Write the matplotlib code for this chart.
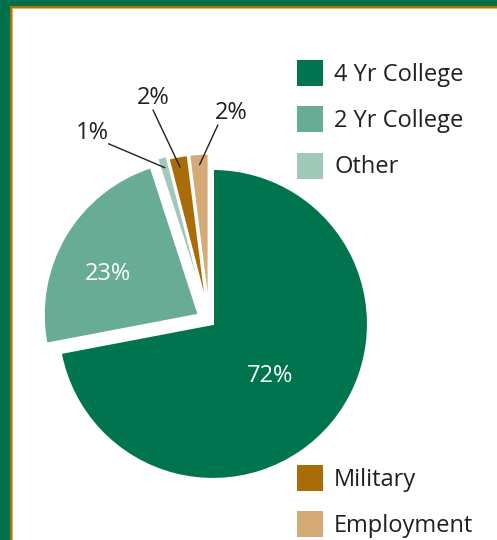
import matplotlib.pyplot as plt
from matplotlib.patches import Patch, Rectangle
import numpy as np

plt.rcParams.update({
    "font.family": ["Open Sans", "DejaVu Sans"],
    "figure.facecolor": "white",
})

# -------------------------------------------------
# Data
# -------------------------------------------------
categories = ["4 Yr College", "2 Yr College", "Other", "Military", "Employment"]
shares = [72, 23, 1, 2, 2]
pct_labels = ["72%", "23%", "1%", "2%", "2%"]
colors = ["#00744E", "#68AC96", "#A0C9BA", "#A96C08", "#D4AA76"]
explode = [0.03, 0.08, 0.10, 0.08, 0.08]

text_color = "#231F20"
border_green = "#00704A"

# -------------------------------------------------
# Figure / axes (1 data unit = pie radius = 155 px)
# -------------------------------------------------
W, H = 497, 540
R = 155.0
cx, cy = 209.4, 321.0          # pie centre in pixels (from top-left)

fig = plt.figure(figsize=(W / 100, H / 100), dpi=100)
ax = fig.add_axes([0, 0, 1, 1])

wedges, _ = ax.pie(
    shares,
    colors=colors,
    explode=explode,
    startangle=90,
    counterclock=False,
    radius=1,
    wedgeprops=dict(edgecolor="white", linewidth=1.5),
)
ax.set_xlim(-cx / R, (W - cx) / R)
ax.set_ylim(-(H - cy) / R, cy / R)
ax.set_aspect("auto")
ax.axis("off")

# inner labels (radius, angle offset in degrees)
inner = {0: (0.50, -3.0), 1: (0.64, 6.5)}
for i, (r, dth) in inner.items():
    w = wedges[i]
    mid = np.deg2rad((w.theta1 + w.theta2) / 2 + dth)
    x = w.center[0] + r * np.cos(mid)
    y = w.center[1] + r * np.sin(mid)
    ax.text(x, y, pct_labels[i], color="white", fontsize=17,
            ha="center", va="center")

# outer labels with leader lines
outer_pos = {2: (-0.757, 1.213), 3: (-0.364, 1.439), 4: (0.139, 1.342)}
outer_rel = {2: (1.0, 0.05), 3: (0.5, 0.0), 4: (0.1, 0.0)}
for i in (2, 3, 4):
    w = wedges[i]
    mid = np.deg2rad((w.theta1 + w.theta2) / 2)
    px = w.center[0] + 0.93 * np.cos(mid)
    py = w.center[1] + 0.93 * np.sin(mid)
    ax.annotate(
        pct_labels[i], xy=(px, py), xytext=outer_pos[i],
        color=text_color, fontsize=17, ha="center", va="center",
        arrowprops=dict(arrowstyle="-", color=text_color, lw=1.0,
                        relpos=outer_rel[i], patchA=None,
                        shrinkA=0, shrinkB=0),
    )

# legends (split in two groups)
handles = [Patch(facecolor=c, edgecolor="none") for c in colors]
leg_kw = dict(loc="upper left", frameon=False, fontsize=17,
              handlelength=1.10, handleheight=1.32, handletextpad=0.47,
              borderpad=0, borderaxespad=0, labelcolor=text_color)
leg1 = fig.legend(handles[:3], categories[:3], labelspacing=0.82,
                  bbox_to_anchor=(297 / W, 1 - 60 / H), **leg_kw)
leg2 = fig.legend(handles[3:], categories[3:], labelspacing=0.82,
                  bbox_to_anchor=(297 / W, 1 - 465 / H), **leg_kw)

# frame: green band on top and left, gold rule inside
fig.add_artist(Rectangle((0, 1 - 6 / H), 1, 6 / H, transform=fig.transFigure,
                         facecolor=border_green, edgecolor="none"))
fig.add_artist(Rectangle((0, 0), 10 / W, 1, transform=fig.transFigure,
                         facecolor=border_green, edgecolor="none"))
fig.add_artist(Rectangle((10 / W, 1 - 8 / H), 1, 2 / H, transform=fig.transFigure,
                         facecolor="#A8740F", edgecolor="none"))
fig.add_artist(Rectangle((10 / W, 0), 2 / W, 1 - 6 / H, transform=fig.transFigure,
                         facecolor="#A8740F", edgecolor="none"))
fig.add_artist(Rectangle((12 / W, 1 - 9 / H), 1, 1 / H, transform=fig.transFigure,
                         facecolor="#E2B566", edgecolor="none"))
fig.add_artist(Rectangle((12 / W, 0), 1 / W, 1 - 8 / H, transform=fig.transFigure,
                         facecolor="#E2B566", edgecolor="none"))

fig.savefig("out.png", dpi=100)
